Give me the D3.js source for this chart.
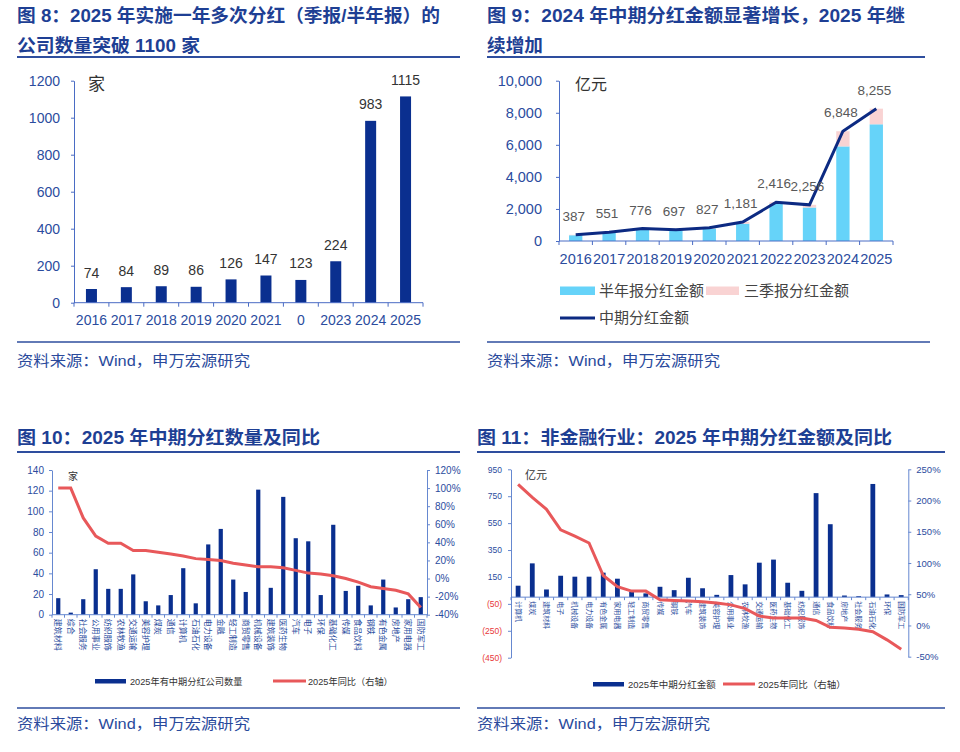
<!DOCTYPE html>
<html><head><meta charset="utf-8">
<script src="https://cdn.jsdelivr.net/npm/d3@7"></script>
<style>
body{margin:0;background:#fff}
text{font-family:"Liberation Sans",Arial,"Noto Sans CJK SC",sans-serif}
</style>
</head><body>
<svg id="c" width="960" height="752"></svg>
<script>
// ---------------- DATA ----------------
const fig8Years = ["2016","2017","2018","2019","2020","2021","0","2023","2024","2025"];
const fig8Counts = [74,84,89,86,126,147,123,224,983,1115];
const fig8YTicks = [0,200,400,600,800,1000,1200];

const fig9Years = ["2016","2017","2018","2019","2020","2021","2022","2023","2024","2025"];
const fig9Half = [360,505,735,660,780,1080,2320,2090,5900,7280];
const fig9Q3 = [27,46,41,37,47,101,96,166,948,975];
const fig9Total = [387,551,776,697,827,1181,2416,2256,6848,8255];
const fig9YTicks = [0,2000,4000,6000,8000,10000];

const fig10Industries = ["建筑材料","综合","社会服务","公用事业","纺织服饰","农林牧渔","交通运输","美容护理","煤炭","通信","计算机","石油石化","电力设备","金融","轻工制造","商贸零售","机械设备","建筑装饰","医药生物","汽车","电子","环保","基础化工","传媒","食品饮料","钢铁","有色金属","房地产","家用电器","国防军工"];
const fig10Counts = [16,2,15,44,25,25,39,13,9,19,45,11,68,83,34,22,121,26,114,74,71,19,87,23,28,9,34,7,15,17];
const fig10YoY = [100,100,67,47,39,39,31,31,29,27,25,22,21,20,17,15,13,13,12,9,6,5,3,0,-4,-9,-11,-13,-17,-32];
const fig10LTicks = [0,20,40,60,80,100,120,140];
const fig10RTicks = [-40,-20,0,20,40,60,80,100,120];

const fig11Industries = ["计算机","煤炭","建筑材料","电子","机械设备","电力设备","有色金属","家用电器","轻工制造","商贸零售","传媒","钢铁","汽车","建筑装饰","美容护理","公用事业","农林牧渔","交通运输","医药生物","基础化工","纺织服饰","通信","食品饮料","房地产","社会服务","石油石化","环保","国防军工"];
const fig11Amount = [85,251,57,159,152,152,182,137,40,28,77,52,144,66,17,164,95,256,279,107,47,773,542,12,7,841,20,15];
const fig11YoY = [226,205,186,153,143,132,80,62,55,55,41,40,39,38,36,33,27,15,12,12,12,8,-3,-4,-6,-10,-23,-38];
const fig11LTicks = [-450,-250,-50,150,350,550,750,950];
const fig11RTicks = [-50,0,50,100,150,200,250];

// ---------------- STYLE ----------------
const svg = d3.select("#c");
const TITLE = "#1e3f94";
const TXT_BLUE = "#2b4c9e";
const NAVY = "#0a2f8f";
const RED = "#e8585a";
const LIGHTBLUE = "#66d3f9";
const PINK = "#f9d3d3";
const LINE_NAVY = "#0c2a82";

function txt(x, y, s, o = {}) {
  const t = svg.append("text").attr("x", x).attr("y", y).text(s)
    .attr("font-size", o.size || 14).attr("fill", o.fill || "#333")
    .attr("font-weight", o.weight || "normal")
    .attr("text-anchor", o.anchor || "start");
  if (o.len) t.attr("textLength", o.len).attr("lengthAdjust", "spacingAndGlyphs");
  return t;
}
function hline(x1, x2, y, w, c) {
  svg.append("line").attr("x1", x1).attr("x2", x2).attr("y1", y).attr("y2", y)
    .attr("stroke", c || "#2e4e9e").attr("stroke-width", w || 1.5);
}

// ---------------- TITLES / SOURCES ----------------
const tf = {size: 18, weight: "bold", fill: TITLE};
txt(17, 21.5, "图 8：2025 年实施一年多次分红（季报/半年报）的", {...tf, len: 423});
txt(17, 51.5, "公司数量突破 1100 家", {...tf, len: 183});
txt(487, 21.5, "图 9：2024 年中期分红金额显著增长，2025 年继", {...tf, len: 418});
txt(487, 51.5, "续增加", {...tf, len: 56});
hline(17, 460, 57, 2);
hline(487, 925, 57, 2);
hline(17, 460, 342, 1.5);
hline(487, 930, 342, 1.5);
const sf = {size: 15, fill: "#2a4a9c"};
txt(17, 366, "资料来源：Wind，申万宏源研究", {...sf, len: 233});
txt(487, 366, "资料来源：Wind，申万宏源研究", {...sf, len: 233});

txt(17, 443.5, "图 10：2025 年中期分红数量及同比", {...tf, len: 303});
txt(477, 443.5, "图 11：非金融行业：2025 年中期分红金额及同比", {...tf, len: 415});
hline(17, 460, 452, 2);
hline(477, 945, 452, 2);
hline(17, 460, 708, 1.5);
hline(477, 945, 708, 1.5);
txt(17, 729, "资料来源：Wind，申万宏源研究", {...sf, len: 233});
txt(477, 729, "资料来源：Wind，申万宏源研究", {...sf, len: 233});

function styleAxis(g, color, tcolor, size) {
  g.select(".domain").attr("stroke", color).attr("stroke-width", 1);
  g.selectAll(".tick line").attr("stroke", color);
  g.selectAll(".tick text").attr("fill", tcolor).attr("font-size", size)
    .attr("font-family", "'Liberation Sans',Arial,sans-serif");
}
function bandTicks(g, xs, y, len, color) {
  const dom = xs.domain();
  const pos = dom.map(d => xs(d)).concat([xs(dom[dom.length - 1]) + xs.step()]);
  g.append("g").selectAll("line").data(pos).join("line")
    .attr("x1", d => d).attr("x2", d => d).attr("y1", y).attr("y2", y + len)
    .attr("stroke", color);
}

// ---------------- FIG 8 ----------------
{
  const x = d3.scaleBand().domain(fig8Years).range([74, 423]);
  const y = d3.scaleLinear().domain([0, 1200]).range([302.7, 80.7]);
  const g = svg.append("g");
  const bw = 11;
  g.selectAll("rect").data(fig8Counts).join("rect")
    .attr("x", (d, i) => x(fig8Years[i]) + x.bandwidth() / 2 - bw / 2)
    .attr("width", bw).attr("y", d => y(d)).attr("height", d => y(0) - y(d))
    .attr("fill", NAVY);
  g.selectAll(".vl").data(fig8Counts).join("text").attr("class", "vl")
    .attr("x", (d, i) => x(fig8Years[i]) + x.bandwidth() / 2)
    .attr("y", d => y(d) - 11.5).attr("text-anchor", "middle")
    .attr("font-size", 14).attr("fill", "#333").text(d => d);
  const ay = g.append("g").attr("transform", "translate(74,0)")
    .call(d3.axisLeft(y).tickValues(fig8YTicks).tickFormat(d3.format("d")).tickSize(3).tickSizeOuter(0).tickPadding(11));
  styleAxis(ay, "#4a6cc4", TXT_BLUE, 14);
  const ax = g.append("g").attr("transform", "translate(0,302.7)")
    .call(d3.axisBottom(x).tickSize(0).tickPadding(12));
  styleAxis(ax, "#4a6cc4", TXT_BLUE, 14);
  ax.select(".domain").attr("d", "M74,0H423");
  bandTicks(g, x, 302.7, 4, "#4a6cc4");
  txt(88, 90, "家", {size: 17, fill: "#333"});
}

// ---------------- FIG 9 ----------------
{
  const x = d3.scaleBand().domain(fig9Years).range([559, 893]);
  const y = d3.scaleLinear().domain([0, 10000]).range([241, 80.7]);
  const g = svg.append("g");
  const bw = 13.3;
  const cx = i => x(fig9Years[i]) + x.bandwidth() / 2;
  g.selectAll(".h").data(fig9Half).join("rect").attr("class", "h")
    .attr("x", (d, i) => cx(i) - bw / 2).attr("width", bw)
    .attr("y", d => y(d)).attr("height", d => y(0) - y(d)).attr("fill", LIGHTBLUE);
  g.selectAll(".q").data(fig9Q3).join("rect").attr("class", "q")
    .attr("x", (d, i) => cx(i) - bw / 2).attr("width", bw)
    .attr("y", (d, i) => y(fig9Half[i] + d)).attr("height", (d, i) => y(fig9Half[i]) - y(fig9Half[i] + d))
    .attr("fill", PINK);
  const ay = g.append("g").attr("transform", "translate(559,0)")
    .call(d3.axisLeft(y).tickValues(fig9YTicks).tickFormat(d3.format(",")).tickSize(3).tickSizeOuter(0).tickPadding(14));
  styleAxis(ay, "#4a6cc4", TXT_BLUE, 14.5);
  const ax = g.append("g").attr("transform", "translate(0,241)")
    .call(d3.axisBottom(x).tickSize(0).tickPadding(13));
  styleAxis(ax, "#4a6cc4", TXT_BLUE, 14.5);
  ax.select(".domain").attr("d", "M559,0H893");
  bandTicks(g, x, 241, 4, "#4a6cc4");
  const line = d3.line().x((d, i) => cx(i)).y(d => y(d));
  g.append("path").datum(fig9Total).attr("d", line).attr("fill", "none")
    .attr("stroke", LINE_NAVY).attr("stroke-width", 3);
  g.selectAll(".vl").data(fig9Total).join("text").attr("class", "vl")
    .attr("x", (d, i) => cx(i) - 2).attr("y", d => y(d) - 14)
    .attr("text-anchor", "middle").attr("font-size", 13.5).attr("fill", "#595959")
    .text(d => d3.format(",")(d));
  txt(575, 90, "亿元", {size: 16, fill: "#333"});
  // legend
  g.append("rect").attr("x", 560).attr("y", 286.5).attr("width", 35).attr("height", 8.5).attr("fill", LIGHTBLUE);
  txt(599, 296, "半年报分红金额", {size: 15, fill: "#444"});
  g.append("rect").attr("x", 706).attr("y", 286.5).attr("width", 33).attr("height", 8.5).attr("fill", PINK);
  txt(744, 296, "三季报分红金额", {size: 15, fill: "#444"});
  g.append("line").attr("x1", 560).attr("x2", 595).attr("y1", 318).attr("y2", 318)
    .attr("stroke", LINE_NAVY).attr("stroke-width", 3);
  txt(599, 323, "中期分红金额", {size: 15, fill: "#444"});
}

// ---------------- FIG 10 ----------------
{
  const x = d3.scaleBand().domain(fig10Industries).range([52, 427]);
  const yl = d3.scaleLinear().domain([0, 140]).range([614.7, 470]);
  const yr = d3.scaleLinear().domain([-40, 120]).range([614.7, 470]);
  const g = svg.append("g");
  const cx = i => x(fig10Industries[i]) + x.bandwidth() / 2;
  const bw = 4.2;
  g.selectAll("rect").data(fig10Counts).join("rect")
    .attr("x", (d, i) => cx(i) - bw / 2).attr("width", bw)
    .attr("y", d => yl(d)).attr("height", d => yl(0) - yl(d)).attr("fill", NAVY);
  const al = g.append("g").attr("transform", "translate(52,0)")
    .call(d3.axisLeft(yl).tickValues(fig10LTicks).tickSize(3).tickSizeOuter(0).tickPadding(5));
  styleAxis(al, "#6688d0", TXT_BLUE, 10);
  const ar = g.append("g").attr("transform", "translate(427,0)")
    .call(d3.axisRight(yr).tickValues(fig10RTicks).tickFormat(d => d + "%").tickSize(3).tickSizeOuter(0).tickPadding(5));
  styleAxis(ar, "#6688d0", TXT_BLUE, 10);
  const ax = g.append("g").attr("transform", "translate(0,614.7)")
    .call(d3.axisBottom(x).tickSize(0).tickPadding(4));
  styleAxis(ax, "#6688d0", TXT_BLUE, 8);
  ax.select(".domain").attr("d", "M52,0H427");
  ax.selectAll(".tick text").attr("transform", "rotate(90)").attr("y", 0).attr("x", 4)
    .attr("dy", "0.35em").attr("text-anchor", "start")
    .attr("font-family", "'Noto Sans CJK SC',sans-serif");
  bandTicks(g, x, 614.7, 3, "#6688d0");
  const line = d3.line().x((d, i) => cx(i)).y(d => yr(d));
  g.append("path").datum(fig10YoY).attr("d", line).attr("fill", "none")
    .attr("stroke", RED).attr("stroke-width", 3);
  txt(68, 480, "家", {size: 10, fill: "#333"});
  g.append("rect").attr("x", 95).attr("y", 679).attr("width", 31).attr("height", 4.5).attr("fill", NAVY);
  txt(130, 684.5, "2025年有中期分红公司数量", {size: 9.2, fill: "#333"});
  g.append("line").attr("x1", 273).attr("x2", 306).attr("y1", 681).attr("y2", 681)
    .attr("stroke", RED).attr("stroke-width", 3);
  txt(308, 684.5, "2025年同比（右轴）", {size: 9.2, fill: "#333"});
}

// ---------------- FIG 11 ----------------
{
  const x = d3.scaleBand().domain(fig11Industries).range([511, 908.3]);
  const yl = d3.scaleLinear().domain([-450, 950]).range([657.7, 469.3]);
  const yr = d3.scaleLinear().domain([-50, 250]).range([656.7, 469.3]);
  const g = svg.append("g");
  const cx = i => x(fig11Industries[i]) + x.bandwidth() / 2;
  const bw = 4.8;
  g.selectAll("rect").data(fig11Amount).join("rect")
    .attr("x", (d, i) => cx(i) - bw / 2).attr("width", bw)
    .attr("y", d => yl(d)).attr("height", d => yl(0) - yl(d)).attr("fill", NAVY);
  const al = g.append("g").attr("transform", "translate(511,0)")
    .call(d3.axisLeft(yl).tickValues(fig11LTicks).tickFormat(d => d < 0 ? "(" + (-d) + ")" : d).tickSize(3).tickSizeOuter(0).tickPadding(6));
  styleAxis(al, "#6688d0", TXT_BLUE, 8.5);
  al.selectAll(".tick text").attr("fill", d => d < 0 ? "#e83a3a" : TXT_BLUE);
  const ar = g.append("g").attr("transform", "translate(908.3,0)")
    .call(d3.axisRight(yr).tickValues(fig11RTicks).tickFormat(d => d + "%").tickSize(3).tickSizeOuter(0).tickPadding(5));
  styleAxis(ar, "#6688d0", TXT_BLUE, 9.5);
  const y0 = yl(0);
  const ax = g.append("g").attr("transform", `translate(0,${y0})`)
    .call(d3.axisBottom(x).tickSize(0).tickPadding(4));
  styleAxis(ax, "#6688d0", TXT_BLUE, 7);
  ax.select(".domain").attr("d", "M511,0H908.3");
  ax.selectAll(".tick text").attr("transform", "rotate(90)").attr("y", 0).attr("x", 4)
    .attr("dy", "0.35em").attr("text-anchor", "start")
    .attr("font-family", "'Noto Sans CJK SC',sans-serif");
  bandTicks(g, x, y0, 3, "#6688d0");
  const line = d3.line().x((d, i) => cx(i)).y(d => yr(d));
  g.append("path").datum(fig11YoY).attr("d", line).attr("fill", "none")
    .attr("stroke", RED).attr("stroke-width", 3);
  txt(525, 479, "亿元", {size: 11, fill: "#333"});
  g.append("rect").attr("x", 593).attr("y", 682).attr("width", 31).attr("height", 4.5).attr("fill", NAVY);
  txt(628, 688, "2025年中期分红金额", {size: 9.5, fill: "#333"});
  g.append("line").attr("x1", 723).attr("x2", 755).attr("y1", 684).attr("y2", 684)
    .attr("stroke", RED).attr("stroke-width", 3);
  txt(758, 688, "2025年同比（右轴）", {size: 9.5, fill: "#333"});
}
</script>
</body></html>
